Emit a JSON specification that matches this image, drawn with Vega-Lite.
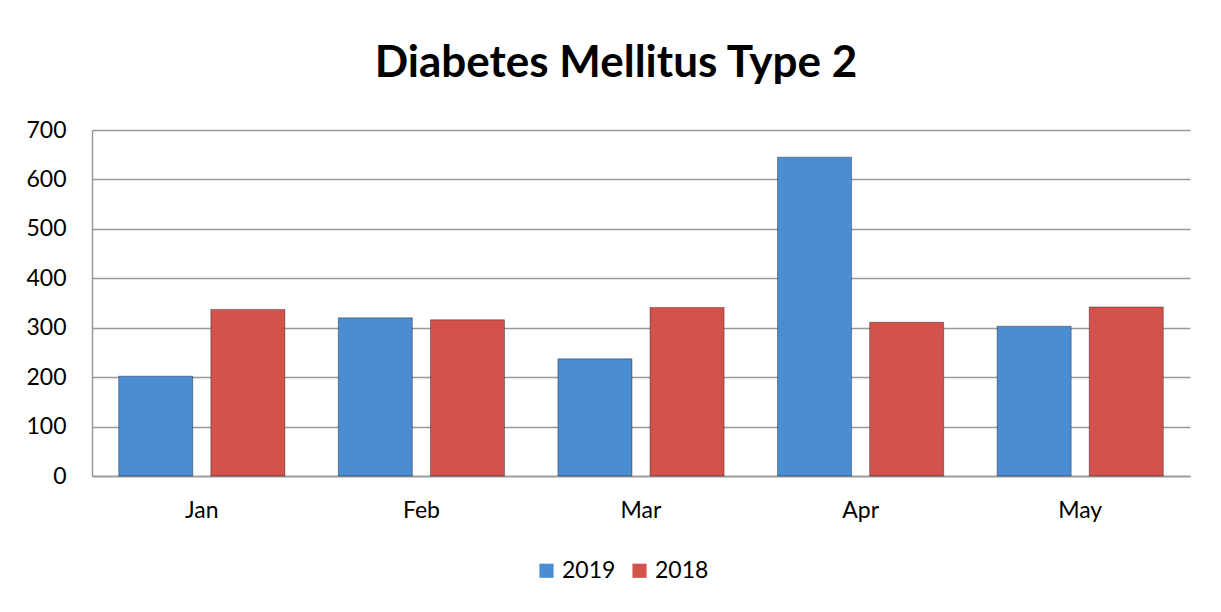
{
  "$schema": "https://vega.github.io/schema/vega-lite/v6.json",
  "autosize": {"type": "none"},
  "width": 1098,
  "height": 346,
  "padding": {"left": 92, "top": 130, "right": 31, "bottom": 136},
  "background": "white",
  "title": {
    "text": "Diabetes Mellitus Type 2",
    "font": "Lato",
    "fontSize": 44,
    "fontWeight": "bold",
    "color": "black",
    "anchor": "middle",
    "frame": "group",
    "offset": 33,
    "dx": -25
  },
  "data": {
    "values": [
      {"month": "Jan", "year": "2019", "value": 202},
      {"month": "Jan", "year": "2018", "value": 337},
      {"month": "Feb", "year": "2019", "value": 320},
      {"month": "Feb", "year": "2018", "value": 316},
      {"month": "Mar", "year": "2019", "value": 237},
      {"month": "Mar", "year": "2018", "value": 341},
      {"month": "Apr", "year": "2019", "value": 645},
      {"month": "Apr", "year": "2018", "value": 311},
      {"month": "May", "year": "2019", "value": 303},
      {"month": "May", "year": "2018", "value": 342}
    ]
  },
  "mark": {"type": "bar", "stroke": "#000000", "strokeOpacity": 0.35, "strokeWidth": 1},
  "encoding": {
    "x": {
      "field": "month",
      "type": "nominal",
      "sort": ["Jan", "Feb", "Mar", "Apr", "May"],
      "scale": {"paddingInner": 0, "paddingOuter": 0},
      "axis": {
        "title": null,
        "labelAngle": 0,
        "labelFont": "Lato",
        "labelFontSize": 23,
        "labelColor": "black",
        "labelPadding": 23,
        "ticks": false,
        "tickSize": 0,
        "domainColor": "#999999",
        "domainWidth": 1.5,
        "grid": false
      }
    },
    "xOffset": {
      "field": "year",
      "type": "nominal",
      "sort": ["2019", "2018"],
      "scale": {"paddingInner": 0.196, "paddingOuter": 0.29}
    },
    "y": {
      "field": "value",
      "type": "quantitative",
      "scale": {"domain": [0, 700], "nice": false},
      "axis": {
        "title": null,
        "values": [0, 100, 200, 300, 400, 500, 600, 700],
        "labelFont": "Lato",
        "labelFontSize": 23,
        "labelColor": "black",
        "labelPadding": 26,
        "ticks": false,
        "tickSize": 0,
        "domainColor": "#999999",
        "domainWidth": 1.5,
        "gridColor": "#999999",
        "gridWidth": 1.5
      }
    },
    "color": {
      "field": "year",
      "type": "nominal",
      "sort": ["2019", "2018"],
      "scale": {"domain": ["2019", "2018"], "range": ["#4A8DD3", "#D3524B"]},
      "legend": {
        "title": null,
        "orient": "none",
        "direction": "horizontal",
        "legendX": 443,
        "legendY": 429,
        "padding": 0,
        "symbolType": "square",
        "symbolSize": 200,
        "symbolStrokeWidth": 0,
        "labelFont": "Lato",
        "labelFontSize": 23,
        "labelColor": "black",
        "labelOffset": 4,
        "columnPadding": 12
      }
    }
  },
  "config": {"view": {"stroke": null}}
}
